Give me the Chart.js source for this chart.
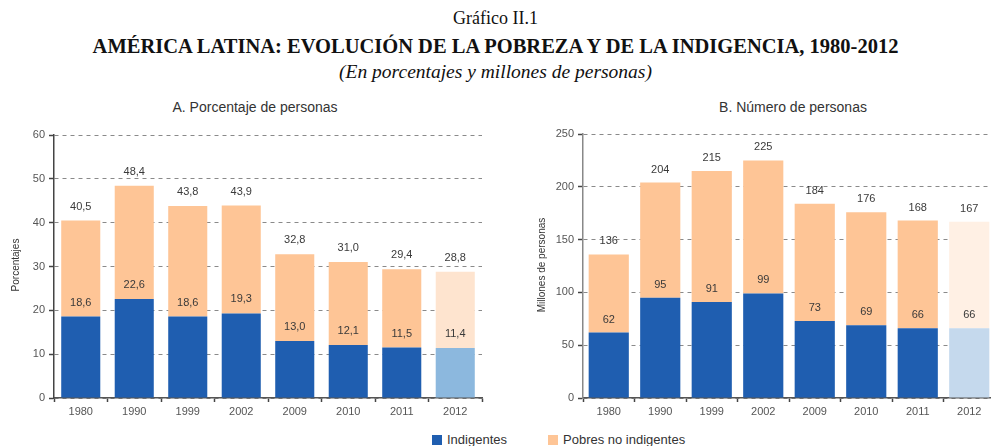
<!DOCTYPE html>
<html>
<head>
<meta charset="utf-8">
<script src="https://cdn.jsdelivr.net/npm/chart.js@4.4.1/dist/chart.umd.min.js"></script>
<style>
  html, body { margin:0; padding:0; background:#fff; width:991px; height:446px; overflow:hidden; position:relative; }
  .t { position:absolute; left:0; width:991px; text-align:center; font-family:"Liberation Serif","DejaVu Serif",serif; color:#111; white-space:nowrap; line-height:1; }
  .st { position:absolute; font-family:"Liberation Sans",Arial,sans-serif; font-size:14px; color:#333; white-space:nowrap; transform:translateX(-50%); }
  canvas { position:absolute; }
  .lg { position:absolute; top:432px; font-family:"Liberation Sans",Arial,sans-serif; font-size:13px; color:#333; white-space:nowrap; }
  .sw { display:inline-block; width:10px; height:10px; vertical-align:-1px; margin-right:5px; }
</style>
</head>
<body>
<div class="t" style="top:9px;font-size:18px;">Gráfico II.1</div>
<div class="t" style="top:36px;font-size:20.5px;font-weight:bold;">AMÉRICA LATINA: EVOLUCIÓN DE LA POBREZA Y DE LA INDIGENCIA, 1980-2012</div>
<div class="t" style="top:62px;font-size:19.5px;font-style:italic;">(En porcentajes y millones de personas)</div>
<div class="st" style="left:255px;top:99px;">A. Porcentaje de personas</div>
<div class="st" style="left:793px;top:99px;">B. Número de personas</div>
<canvas id="cA" width="495" height="300" style="left:0;top:120px;"></canvas>
<canvas id="cB" width="500" height="300" style="left:500px;top:120px;"></canvas>
<div class="lg" style="left:432px;"><span class="sw" style="background:#1f5eb0"></span>Indigentes</div>
<div class="lg" style="left:548px;"><span class="sw" style="background:#fec596"></span>Pobres no indigentes</div>
<script>
const years = ["1980","1990","1999","2002","2009","2010","2011","2012"];
const pctIndigentes = [18.6, 22.6, 18.6, 19.3, 13.0, 12.1, 11.5, 11.4];
const pctPobreza    = [40.5, 48.4, 43.8, 43.9, 32.8, 31.0, 29.4, 28.8];
const numIndigentes = [62, 95, 91, 99, 73, 69, 66, 66];
const numPobreza    = [136, 204, 215, 225, 184, 176, 168, 167];

const BLUE = "#1f5eb0", ORANGE = "#fec596";
const FONT = "'Liberation Sans', Arial, sans-serif";

function makeChart(id, indig, total, opts) {
  const noIndig = total.map((t, i) => +(t - indig[i]).toFixed(1));
  const blueCols = years.map((y, i) => i === years.length - 1 ? opts.lastBlue : BLUE);
  const orCols = years.map((y, i) => i === years.length - 1 ? opts.lastOrange : ORANGE);
  const labelsPlugin = {
    id: 'vals',
    afterDatasetsDraw(chart) {
      const ctx = chart.ctx;
      ctx.save();
      ctx.font = "11px " + FONT;
      ctx.fillStyle = "#3a3a3a";
      ctx.textAlign = "center";
      ctx.textBaseline = "middle";
      const m0 = chart.getDatasetMeta(0), m1 = chart.getDatasetMeta(1);
      m0.data.forEach((b, i) => ctx.fillText(opts.fmt(indig[i]), b.x, b.y - opts.off));
      m1.data.forEach((b, i) => ctx.fillText(opts.fmt(total[i]), b.x, b.y - opts.off));
      ctx.translate(opts.titleX, opts.titleY);
      ctx.rotate(-Math.PI / 2);
      ctx.font = "10px " + FONT;
      ctx.fillStyle = "#333";
      ctx.fillText(opts.yTitle, 0, 0);
      ctx.restore();
    }
  };
  return new Chart(document.getElementById(id), {
    type: 'bar',
    data: {
      labels: years,
      datasets: [
        { label: 'Indigentes', data: indig, backgroundColor: blueCols, borderWidth: 0 },
        { label: 'Pobres no indigentes', data: noIndig, backgroundColor: orCols, borderWidth: 0 }
      ]
    },
    options: {
      responsive: false, animation: false, devicePixelRatio: 1,
      layout: { padding: { left: 0, top: opts.padTop, right: opts.padRight, bottom: 0 } },
      plugins: { legend: { display: false }, tooltip: { enabled: false } },
      datasets: { bar: { barPercentage: opts.barPct, categoryPercentage: 1 } },
      scales: {
        x: {
          stacked: true,
          afterFit: s => { s.height = 22; },
          grid: { offset: true, drawOnChartArea: false, drawTicks: true, tickLength: 4, tickColor: "#444", tickWidth: 1.5 },
          border: { display: true, color: "#555", width: 1.5 },
          ticks: { color: "#555", font: { family: FONT, size: 11 }, padding: 3 }
        },
        y: {
          stacked: true, min: 0, max: opts.max,
          afterFit: s => { s.width = opts.yWidth; },
          ticks: { stepSize: opts.step, color: "#555", font: { family: FONT, size: 11 }, padding: 4 },
          grid: { color: "#8a8a8a", lineWidth: 1, tickLength: 5, tickColor: "#444", tickWidth: 1.5 },
          border: { display: true, color: opts.axisColor, width: 1.5, dash: [4, 4] }
        }
      }
    },
    plugins: [labelsPlugin]
  });
}

makeChart('cA', pctIndigentes, pctPobreza, {
  lastBlue: "#8cb8de", lastOrange: "#fee4cf", fmt: v => v.toFixed(1).replace('.', ','),
  off: 14, max: 60, step: 10, yWidth: 54, padTop: 15, padRight: 13, barPct: 0.73,
  titleX: 16, titleY: 145, yTitle: "Porcentajes", axisColor: "#444"
});
makeChart('cB', numIndigentes, numPobreza, {
  lastBlue: "#c5d9ed", lastOrange: "#fff0e4", fmt: v => String(v),
  off: 13, max: 250, step: 50, yWidth: 83, padTop: 14, padRight: 5, barPct: 0.78,
  titleX: 42, titleY: 145, yTitle: "Millones de personas", axisColor: "#888"
});
</script>
</body>
</html>
